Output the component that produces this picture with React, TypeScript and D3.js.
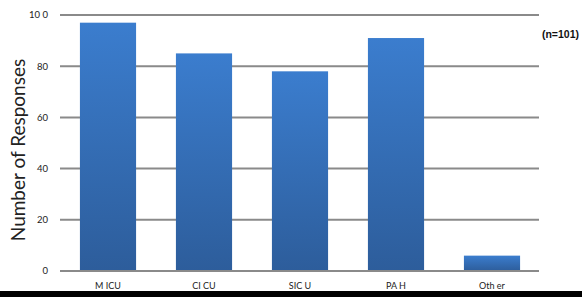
import React from "react";
import * as d3 from "d3";

const categories = ["M ICU", "CI CU", "SIC U", "PA H", "Oth er"];
const values = [97, 85, 78, 91, 6];
const tickValues = [0, 20, 40, 60, 80, 100];
const tickLabels = ["0", "20", "40", "60", "80", "10 0"];

const W = 582;
const H = 297;

export default function App() {
  const x = d3.scaleBand<string>().domain(categories).range([60, 540]).padding(0);
  const y = d3.scaleLinear().domain([0, 100]).range([271, 15]);
  const barW = x.bandwidth() * 0.585;

  return (
    <svg
      width={W}
      height={H}
      style={{ position: "absolute", left: 0, top: 0, background: "#fff" }}
    >
      <defs>
        <linearGradient id="barGrad" x1="0" y1="0" x2="0" y2="1">
          <stop offset="0%" stopColor="#3b7dce" />
          <stop offset="100%" stopColor="#2d5d9b" />
        </linearGradient>
      </defs>
      {tickValues.map((t, i) => (
        <g key={t}>
          <line x1={60} x2={539} y1={y(t)} y2={y(t)} stroke="#8a8a8a" strokeWidth={2} />
          <text
            x={48}
            y={y(t)}
            dy="0.35em"
            textAnchor="end"
            fontFamily="Lato, sans-serif"
            fontSize={9.5}
            fill="#222"
          >
            {tickLabels[i]}
          </text>
        </g>
      ))}
      {categories.map((c, i) => {
        const cx = (x(c) as number) + x.bandwidth() / 2;
        return (
          <g key={c}>
            <rect
              x={cx - barW / 2}
              y={y(values[i])}
              width={barW}
              height={y(0) - y(values[i])}
              fill="url(#barGrad)"
            />
            <text
              x={cx}
              y={289}
              textAnchor="middle"
              fontFamily="Lato, sans-serif"
              fontSize={9}
              fill="#222"
            >
              {c}
            </text>
          </g>
        );
      })}
      <line x1={60} x2={539} y1={y(0)} y2={y(0)} stroke="#8a8a8a" strokeWidth={2} />
      <text
        transform={`translate(25,150) rotate(-90)`}
        textAnchor="middle"
        fontFamily="Lato, sans-serif"
        fontSize={19}
        fill="#222"
      >
        Number of Responses
      </text>
      <text
        x={579}
        y={38}
        textAnchor="end"
        fontFamily="Liberation Sans, Arial, sans-serif"
        fontWeight="bold"
        fontSize={10.5}
        fill="#111"
      >
        (n=101)
      </text>
      <rect x={0} y={291} width={W} height={6} fill="#000" />
    </svg>
  );
}
